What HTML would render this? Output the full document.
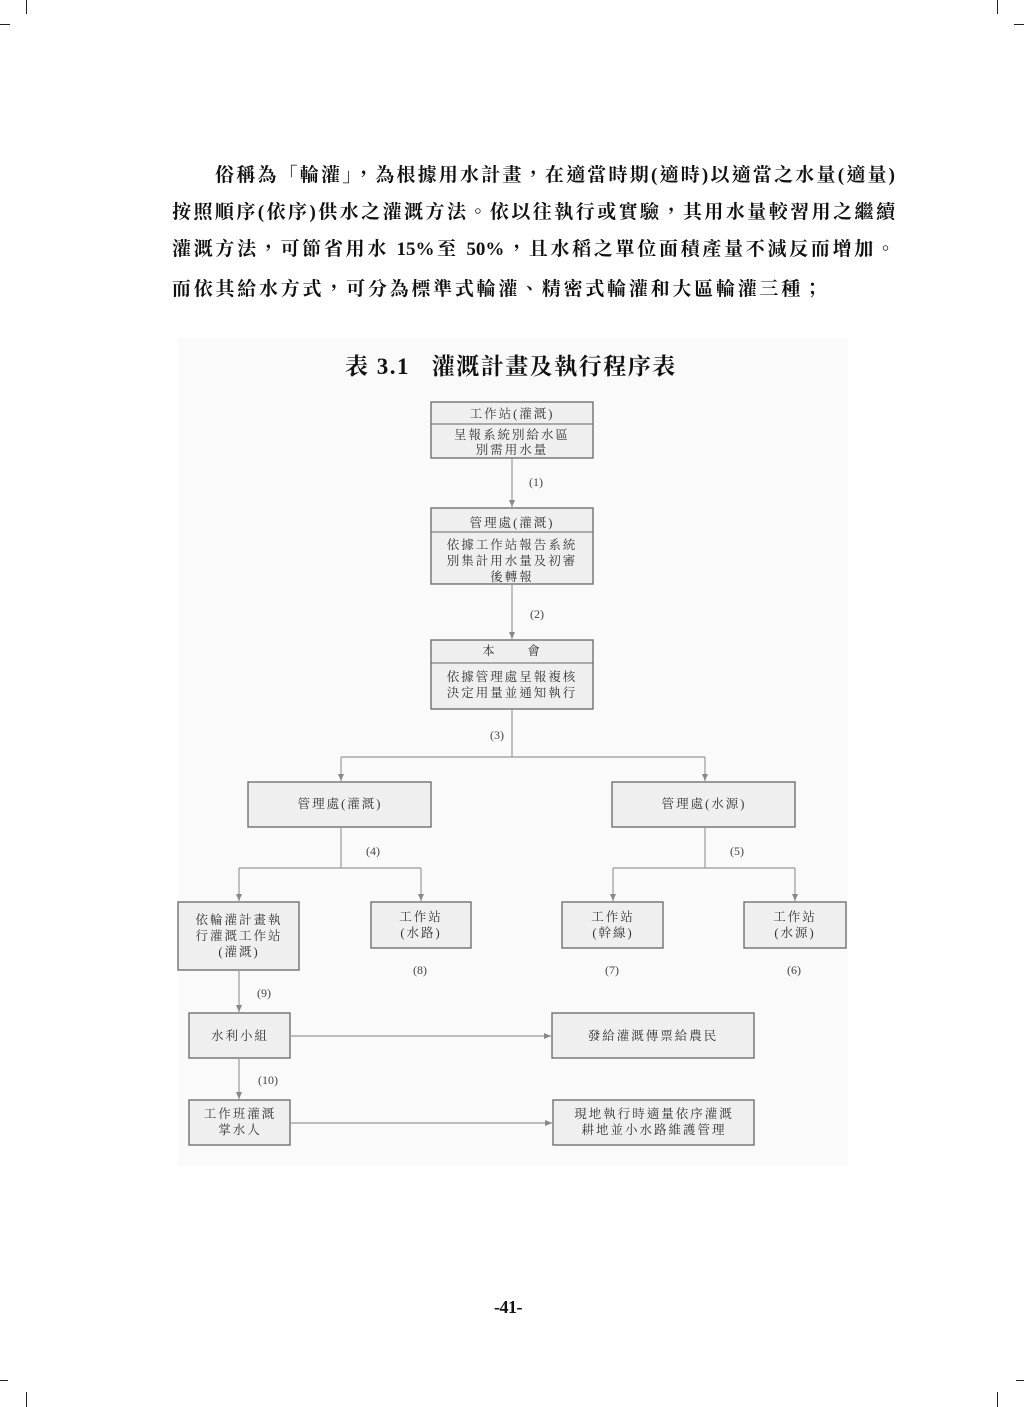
<!DOCTYPE html>
<html><head><meta charset="utf-8">
<style>
html,body{margin:0;padding:0;background:#fff;}
body{width:1024px;height:1407px;position:relative;overflow:hidden;}
.ln{position:absolute;left:172px;width:723px;font-family:"Liberation Serif","Noto Serif CJK TC","Noto Serif CJK SC",serif;font-weight:bold;font-size:19px;line-height:24px;color:#111;text-align:justify;text-align-last:justify;white-space:nowrap;}
.t{position:absolute;font-family:"Liberation Serif","Noto Serif CJK TC","Noto Serif CJK SC",serif;font-weight:bold;color:#111;}
.m{position:absolute;background:#222;}
</style></head><body>
<div class="m" style="left:26px;top:0;width:1px;height:14px"></div>
<div class="m" style="left:0;top:24px;width:10px;height:1px"></div>
<div class="m" style="left:997px;top:0;width:1px;height:14px"></div>
<div class="m" style="left:1014px;top:24px;width:10px;height:1px"></div>
<div class="m" style="left:0;top:1380px;width:8px;height:1px"></div>
<div class="m" style="left:26px;top:1392px;width:1px;height:15px"></div>
<div class="m" style="left:1016px;top:1380px;width:8px;height:1px"></div>
<div class="m" style="left:997px;top:1392px;width:1px;height:15px"></div>

<div class="ln" style="top:164px;left:215px;width:680px">俗稱為「輪灌」，為根據用水計畫，在適當時期(適時)以適當之水量(適量)</div>
<div class="ln" style="top:201px">按照順序(依序)供水之灌溉方法。依以往執行或實驗，其用水量較習用之繼續</div>
<div class="ln" style="top:238px">灌溉方法，可節省用水 15%至 50%，且水稻之單位面積產量不減反而增加。</div>
<div class="ln" style="top:278px;width:650px">而依其給水方式，可分為標準式輪灌、精密式輪灌和大區輪灌三種；</div>

<div style="position:absolute;left:178px;top:338px;width:670px;height:828px;background:#fafafa"></div>
<div class="t" style="left:345px;top:348px;font-size:23px;letter-spacing:1.5px;white-space:pre">表 3.1   灌溉計畫及執行程序表</div>

<svg style="position:absolute;left:0;top:0" width="1024" height="1407" font-family="Liberation Serif, Noto Serif CJK TC, Noto Serif CJK SC, serif" font-size="12.5" fill="#333">
<defs><marker id="a" markerWidth="8" markerHeight="8" refX="7" refY="4" orient="auto" markerUnits="userSpaceOnUse"><path d="M0,1 L7,4 L0,7 z" fill="#888"/></marker></defs>
<g fill="#efefef" stroke="#666" stroke-width="1.3">
<rect x="431" y="402" width="162" height="56"/>
<rect x="431" y="508" width="162" height="76"/>
<rect x="431" y="640" width="162" height="69"/>
<rect x="248" y="782" width="183" height="45"/>
<rect x="612" y="782" width="183" height="45"/>
<rect x="178" y="902" width="121" height="68"/>
<rect x="371" y="902" width="100" height="46"/>
<rect x="562" y="902" width="101" height="46"/>
<rect x="744" y="902" width="102" height="46"/>
<rect x="189" y="1013" width="101" height="45"/>
<rect x="552" y="1013" width="202" height="45"/>
<rect x="189" y="1100" width="101" height="45"/>
<rect x="553" y="1100" width="201" height="45"/>
</g>
<g stroke="#666" stroke-width="1">
<line x1="431" y1="424" x2="593" y2="424"/>
<line x1="431" y1="532" x2="593" y2="532"/>
<line x1="431" y1="663" x2="593" y2="663"/>
</g>
<g stroke="#999" stroke-width="1.2" fill="none">
<line x1="512" y1="458" x2="512" y2="507" marker-end="url(#a)"/>
<line x1="512" y1="584" x2="512" y2="639" marker-end="url(#a)"/>
<polyline points="512,709 512,757"/>
<polyline points="341,757 705,757"/>
<line x1="341" y1="757" x2="341" y2="781" marker-end="url(#a)"/>
<line x1="705" y1="757" x2="705" y2="781" marker-end="url(#a)"/>
<polyline points="341,827 341,868"/>
<polyline points="239,868 421,868"/>
<line x1="239" y1="868" x2="239" y2="901" marker-end="url(#a)"/>
<line x1="421" y1="868" x2="421" y2="901" marker-end="url(#a)"/>
<polyline points="705,827 705,868"/>
<polyline points="613,868 795,868"/>
<line x1="613" y1="868" x2="613" y2="901" marker-end="url(#a)"/>
<line x1="795" y1="868" x2="795" y2="901" marker-end="url(#a)"/>
<line x1="239" y1="970" x2="239" y2="1012" marker-end="url(#a)"/>
<line x1="239" y1="1058" x2="239" y2="1099" marker-end="url(#a)"/>
<line x1="290" y1="1036" x2="551" y2="1036" marker-end="url(#a)"/>
<line x1="290" y1="1123" x2="552" y2="1123" marker-end="url(#a)"/>
</g>
<g text-anchor="middle" letter-spacing="2">
<text x="512" y="418">工作站(灌溉)</text>
<text x="512" y="439">呈報系統別給水區</text>
<text x="512" y="454">別需用水量</text>
<text x="512" y="527">管理處(灌溉)</text>
<text x="512" y="549">依據工作站報告系統</text>
<text x="512" y="565">別集計用水量及初審</text>
<text x="512" y="581">後轉報</text>
<text x="512" y="655" xml:space="preserve">本      會</text>
<text x="512" y="681">依據管理處呈報複核</text>
<text x="512" y="697">決定用量並通知執行</text>
<text x="340" y="808">管理處(灌溉)</text>
<text x="704" y="808">管理處(水源)</text>
<text x="239" y="924">依輪灌計畫執</text>
<text x="239" y="940">行灌溉工作站</text>
<text x="239" y="956">(灌溉)</text>
<text x="421" y="921">工作站</text>
<text x="421" y="937">(水路)</text>
<text x="613" y="921">工作站</text>
<text x="613" y="937">(幹線)</text>
<text x="795" y="921">工作站</text>
<text x="795" y="937">(水源)</text>
<text x="240" y="1040">水利小組</text>
<text x="653" y="1040">發給灌溉傳票給農民</text>
<text x="240" y="1118">工作班灌溉</text>
<text x="240" y="1134">掌水人</text>
<text x="654" y="1118">現地執行時適量依序灌溉</text>
<text x="654" y="1134">耕地並小水路維護管理</text>
</g>
<g text-anchor="middle" font-size="12" fill="#444">
<text x="536" y="486">(1)</text>
<text x="537" y="618">(2)</text>
<text x="497" y="739">(3)</text>
<text x="373" y="855">(4)</text>
<text x="737" y="855">(5)</text>
<text x="420" y="974">(8)</text>
<text x="612" y="974">(7)</text>
<text x="794" y="974">(6)</text>
<text x="264" y="997">(9)</text>
<text x="268" y="1084">(10)</text>
</g>
</svg>
<div class="t" style="left:494px;top:1297px;font-size:18px;letter-spacing:-0.5px">-41-</div>
</body></html>
